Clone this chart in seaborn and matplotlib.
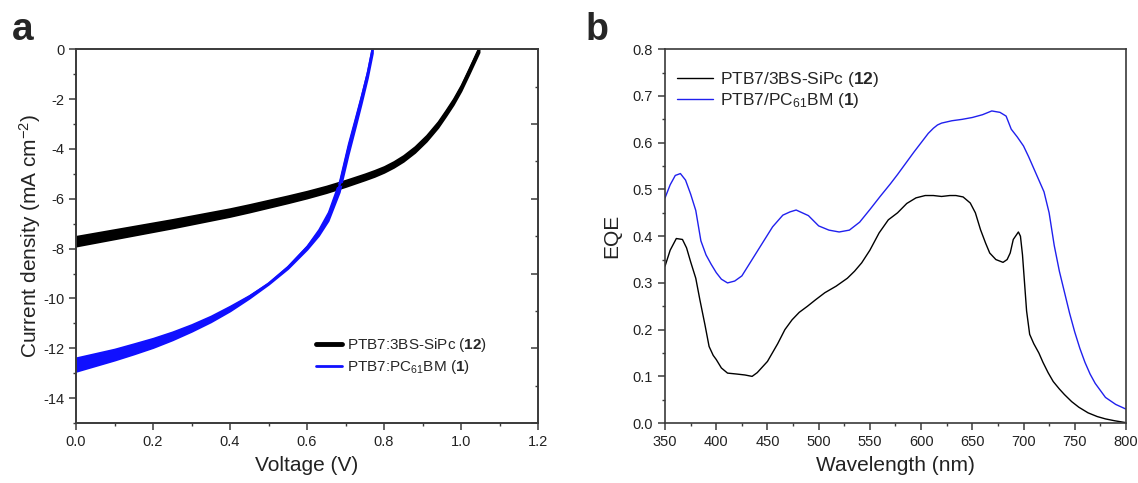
import matplotlib
matplotlib.use("Agg")
import matplotlib.pyplot as plt
from matplotlib.lines import Line2D
from matplotlib.ticker import MultipleLocator, FormatStrFormatter
import seaborn as sns
import pandas as pd

# ---- panel a: J-V curves (centre line and band width of the scan spread)
jv_v_sipc = [0.00, 0.05, 0.10, 0.15, 0.20, 0.25, 0.30, 0.35, 0.40, 0.45, 0.50, 0.55, 0.60,
             0.65, 0.70, 0.75, 0.775, 0.80, 0.825, 0.85, 0.88, 0.91, 0.94, 0.96, 0.98, 1.00,
             1.02, 1.035, 1.047]
jv_j_sipc = [-7.70, -7.56, -7.42, -7.28, -7.14, -7.00, -6.85, -6.70, -6.55, -6.38, -6.20, -6.02, -5.83,
             -5.62, -5.38, -5.12, -4.98, -4.82, -4.62, -4.38, -4.02, -3.57, -3.02, -2.57, -2.10,
             -1.55, -0.90, -0.40, 0.0]
jv_w_sipc = [0.40, 0.39, 0.38, 0.37, 0.36, 0.35, 0.34, 0.33, 0.32, 0.31, 0.30, 0.29, 0.28,
             0.27, 0.26, 0.25, 0.25, 0.24, 0.24, 0.24, 0.24, 0.24, 0.24, 0.24, 0.24, 0.24,
             0.24, 0.24, 0.24]

jv_v_pcbm = [0.00, 0.05, 0.10, 0.15, 0.20, 0.25, 0.30, 0.35, 0.40, 0.45, 0.50, 0.55, 0.60,
             0.63, 0.655, 0.684, 0.707, 0.725, 0.741, 0.757, 0.770]
jv_j_pcbm = [-12.65, -12.45, -12.25, -12.02, -11.78, -11.50, -11.18, -10.82, -10.40, -9.93, -9.40, -8.75, -7.95,
             -7.35, -6.70, -5.50, -4.00, -2.95, -2.00, -1.00, 0.0]
jv_w_pcbm = [0.55, 0.50, 0.45, 0.42, 0.38, 0.33, 0.28, 0.24, 0.20, 0.12, 0.06, 0.10, 0.15,
             0.25, 0.35, 0.45, 0.45, 0.40, 0.35, 0.30, 0.30]

# ---- panel b: EQE spectra
eqe_nm_sipc = [350, 355, 361, 367, 371, 375, 380, 384, 389, 393, 397, 400, 405, 411, 420, 428, 435, 440,
               450, 460, 467, 474, 481, 489, 497, 506, 517, 528, 535, 542, 550, 559, 568, 577, 586, 595,
               604, 612, 620, 628, 634, 641, 648, 653, 658, 663, 667, 673, 680, 684, 687, 690, 695, 697,
               699, 701, 703, 706, 710, 715, 719, 724, 729, 735, 740, 747, 754, 763, 772, 780, 789, 800]
eqe_sipc = [0.336, 0.370, 0.395, 0.393, 0.375, 0.345, 0.310, 0.264, 0.210, 0.164, 0.145, 0.136, 0.118,
            0.107, 0.105, 0.103, 0.100, 0.108, 0.132, 0.170, 0.200, 0.221, 0.237, 0.250, 0.264, 0.279,
            0.293, 0.310, 0.325, 0.343, 0.370, 0.407, 0.435, 0.450, 0.470, 0.482, 0.487, 0.487, 0.485,
            0.487, 0.487, 0.484, 0.471, 0.450, 0.414, 0.385, 0.364, 0.350, 0.344, 0.350, 0.364, 0.393,
            0.409, 0.400, 0.360, 0.300, 0.240, 0.190, 0.170, 0.150, 0.130, 0.108, 0.089, 0.073, 0.061,
            0.046, 0.034, 0.022, 0.014, 0.009, 0.005, 0.001]

eqe_nm_pcbm = [350, 355, 360, 365, 370, 375, 380, 385, 390, 395, 400, 405, 411, 418, 425, 435, 445, 455,
               465, 472, 478, 484, 490, 500, 510, 520, 530, 540, 550, 560, 570, 577, 585, 593, 600, 607,
               612, 616, 620, 630, 640, 650, 660, 669, 677, 683, 688, 694, 700, 705, 710, 715, 720, 725,
               730, 735, 740, 745, 750, 755, 760, 765, 770, 775, 780, 790, 800]
eqe_pcbm = [0.482, 0.510, 0.530, 0.534, 0.520, 0.490, 0.455, 0.390, 0.360, 0.340, 0.322, 0.308, 0.300,
            0.304, 0.315, 0.350, 0.385, 0.420, 0.445, 0.452, 0.456, 0.450, 0.444, 0.422, 0.413, 0.409,
            0.413, 0.430, 0.457, 0.485, 0.512, 0.532, 0.556, 0.580, 0.600, 0.620, 0.631, 0.638, 0.642,
            0.647, 0.650, 0.654, 0.660, 0.668, 0.665, 0.657, 0.629, 0.612, 0.593, 0.570, 0.545, 0.520,
            0.495, 0.450, 0.380, 0.325, 0.280, 0.235, 0.195, 0.160, 0.130, 0.105, 0.085, 0.070, 0.055,
            0.040, 0.030]

label_sipc_a = r"PTB7:3BS-SiPc ($\mathbf{12}$)"
label_pcbm_a = r"PTB7:PC$_{61}$BM ($\mathbf{1}$)"
label_sipc_b = r"PTB7/3BS-SiPc ($\mathbf{12}$)"
label_pcbm_b = r"PTB7/PC$_{61}$BM ($\mathbf{1}$)"

sns.set_theme(style="ticks")
plt.rcParams["font.family"] = ["Liberation Sans", "DejaVu Sans"]
plt.rcParams["mathtext.fontset"] = "custom"
plt.rcParams["mathtext.rm"] = "Liberation Sans"
plt.rcParams["mathtext.bf"] = "Liberation Sans:bold"
plt.rcParams["mathtext.it"] = "Liberation Sans:italic"
plt.rcParams["axes.unicode_minus"] = False

spine_col = "#3a3a3a"
text_col = "#222222"

fig = plt.figure(figsize=(11.38, 4.83), dpi=100)
ax_a = fig.add_axes([0.0668, 0.124, 0.406, 0.774])
ax_b = fig.add_axes([0.5844, 0.124, 0.405, 0.774])


def band_frame(v, j, w):
    # upper and lower edge of each J-V band as two observations per voltage
    rows = []
    for vi, ji, wi in zip(v, j, w):
        rows.append({"V": vi, "J": ji + wi / 2})
        rows.append({"V": vi, "J": ji - wi / 2})
    return pd.DataFrame(rows)


for v, j, w, col in [(jv_v_sipc, jv_j_sipc, jv_w_sipc, "black"),
                     (jv_v_pcbm, jv_j_pcbm, jv_w_pcbm, "#1010ff")]:
    df = band_frame(v, j, w)
    sns.lineplot(data=df, x="V", y="J", estimator="mean", errorbar=("pi", 100),
                 color=col, lw=1.6, err_kws={"alpha": 1.0, "lw": 1.2, "edgecolor": col},
                 ax=ax_a, legend=False)

ax_a.set_xlim(0, 1.2)
ax_a.set_ylim(-15, 0)
ax_a.xaxis.set_major_locator(MultipleLocator(0.2))
ax_a.xaxis.set_minor_locator(MultipleLocator(0.1))
ax_a.yaxis.set_major_locator(MultipleLocator(2))
ax_a.yaxis.set_minor_locator(MultipleLocator(1))
ax_a.xaxis.set_major_formatter(FormatStrFormatter("%.1f"))
ax_a.set_xlabel("Voltage (V)", fontsize=15, color=text_col, labelpad=5)
ax_a.set_ylabel(r"Current density (mA cm$^{-2}$)", fontsize=15, color=text_col, labelpad=0)

# right-hand inward ticks (offset scale as in the original figure)
ax_ar = ax_a.twinx()
ax_ar.set_ylim(-15, 0)
ax_ar.yaxis.set_major_locator(MultipleLocator(3))
ax_ar.yaxis.set_minor_locator(MultipleLocator(1.5))
ax_ar.tick_params(axis="y", which="both", direction="in", labelright=False, color=spine_col)
ax_ar.tick_params(axis="y", which="major", length=5, width=1.1)
ax_ar.tick_params(axis="y", which="minor", length=2.5, width=1.0)
ax_ar.grid(False)

handles_a = [Line2D([0], [0], color="black", lw=3.5),
             Line2D([0], [0], color="#1010ff", lw=2.0)]
ax_a.legend(handles_a, [label_sipc_a, label_pcbm_a], loc="upper left",
            bbox_to_anchor=(0.52, 0.232), frameon=False, fontsize=11,
            handlelength=1.7, handletextpad=0.3, labelspacing=0.25,
            borderpad=0, borderaxespad=0)

sns.lineplot(x=eqe_nm_sipc, y=eqe_sipc, color="black", lw=1.0, ax=ax_b,
             label=label_sipc_b, sort=False)
sns.lineplot(x=eqe_nm_pcbm, y=eqe_pcbm, color="#2020ee", lw=1.0, ax=ax_b,
             label=label_pcbm_b, sort=False)
ax_b.set_xlim(350, 800)
ax_b.set_ylim(0, 0.8)
ax_b.xaxis.set_major_locator(MultipleLocator(50))
ax_b.xaxis.set_minor_locator(MultipleLocator(25))
ax_b.yaxis.set_major_locator(MultipleLocator(0.1))
ax_b.yaxis.set_minor_locator(MultipleLocator(0.05))
ax_b.yaxis.set_major_formatter(FormatStrFormatter("%.1f"))
ax_b.set_xlabel("Wavelength (nm)", fontsize=15, color=text_col, labelpad=5)
ax_b.set_ylabel("EQE", fontsize=15, color=text_col, labelpad=8)
ax_b.legend(loc="upper left", bbox_to_anchor=(0.026, 0.945), frameon=False, fontsize=12.5,
            handlelength=2.1, handletextpad=0.35, labelspacing=0.15,
            borderpad=0, borderaxespad=0)

for ax in (ax_a, ax_b, ax_ar):
    for sp in ax.spines.values():
        sp.set_visible(True)
        sp.set_color(spine_col)
        sp.set_linewidth(1.2)
for ax in (ax_a, ax_b):
    ax.tick_params(which="both", direction="out", colors=spine_col, labelcolor=text_col,
                   labelsize=10.5, top=False, right=False)
    ax.tick_params(which="major", length=5, width=1.1)
    ax.tick_params(which="minor", length=2.5, width=1.0)

fig.text(12 / 1138, 1 - 40 / 483, "a", fontsize=28, fontweight="bold", va="baseline", ha="left")
fig.text(586 / 1138, 1 - 40 / 483, "b", fontsize=27, fontweight="bold", va="baseline", ha="left")

fig.savefig("out.png", dpi=100, facecolor="white")
